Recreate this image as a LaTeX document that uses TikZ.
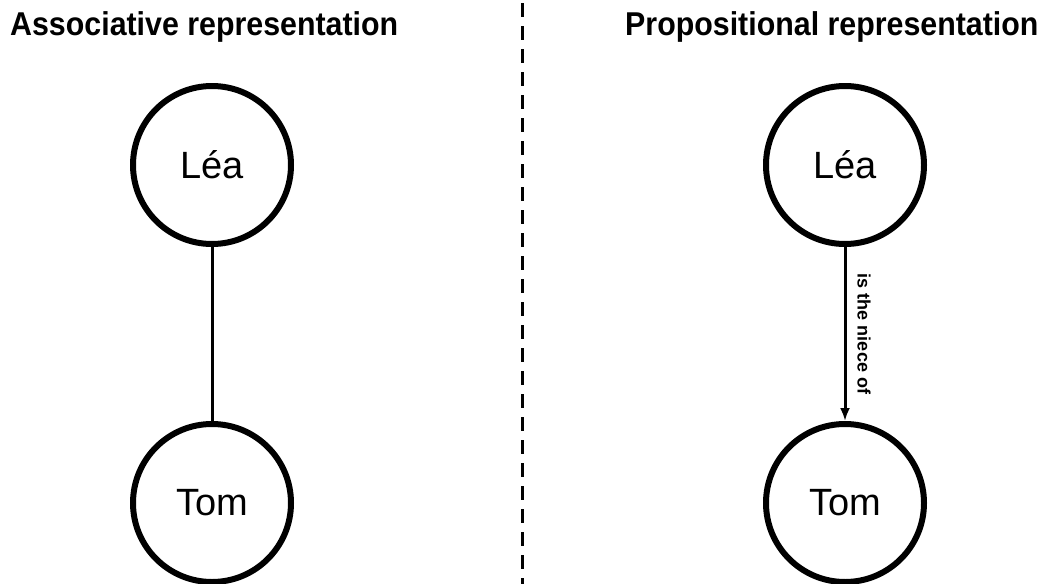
\documentclass[tikz,border=0pt]{standalone}
\usepackage{fontspec}
\setmainfont{Liberation Sans}
\usetikzlibrary{arrows.meta}

\tikzset{
  person/.style={circle, draw, line width=6pt, minimum size=158pt, inner sep=0pt,
    font=\fontsize{38}{40}\selectfont},
  heading/.style={anchor=base west, inner sep=0pt, font=\fontsize{33}{35}\selectfont\bfseries},
  relation/.style={font=\fontsize{18}{20}\selectfont\bfseries, rotate=-90, anchor=south, inner sep=11pt}
}

\begin{document}
\begin{tikzpicture}[>={Latex[length=13pt,width=10pt]}, x=1pt, y=-1pt]
            \useasboundingbox (0,0) rectangle (1061,584);

            % titres
            \node[heading] (assocTitle) at (10,35) {\scalebox{0.92}[1]{Associative representation}};
            \node[heading] (propTitle) at (625,35) {\scalebox{0.92}[1]{Propositional representation}};

            % separation
            \coordinate (sepTop) at (522,3);
            \coordinate (sepBot) at (522,584);
            \draw[line width=3pt, dash pattern=on 14pt off 9pt] (sepTop) -- (sepBot);

            % associatif
            \node[person] (leaA) at (212,165) {Léa};
            \node[person] (tomA) at (212,503) {Tom};
            \draw[line width=3pt] (leaA) -- (tomA);

            % propositionnel
            \node[person] (leaP) at (845,165) {Léa};
            \node[person] (tomP) at (845,503) {Tom};
            \draw[->, line width=3pt] (leaP) -- node[relation] {is the niece of} (tomP);
        \end{tikzpicture}
\end{document}
